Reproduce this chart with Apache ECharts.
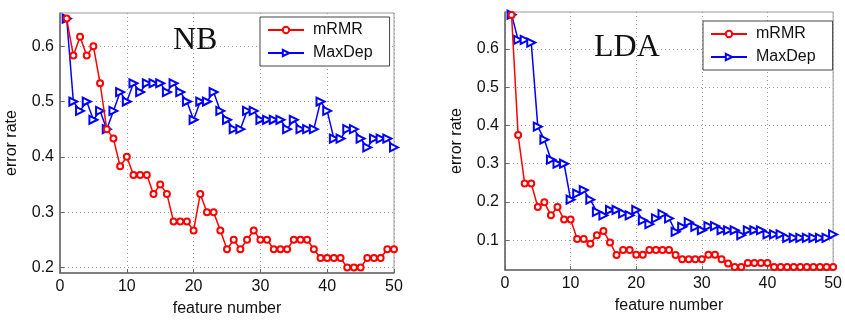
<!DOCTYPE html>
<html>
<head>
<meta charset="utf-8">
<script src="https://cdn.jsdelivr.net/npm/echarts@6/dist/echarts.min.js"></script>
<style>
  html, body { margin: 0; padding: 0; background: #fff; }
  #chart { width: 845px; height: 322px; }
</style>
</head>
<body>
<div id="chart"></div>
<script>
// feature number 1..50
const featureNumbers = Array.from({ length: 50 }, (_, i) => i + 1);

// NB classifier error rates
const nbMrmr = [
  0.650, 0.583, 0.617, 0.583, 0.600, 0.533, 0.450, 0.433, 0.383, 0.400,
  0.367, 0.367, 0.367, 0.333, 0.350, 0.333, 0.283, 0.283, 0.283, 0.267,
  0.333, 0.300, 0.300, 0.267, 0.233, 0.250, 0.233, 0.250, 0.267, 0.250,
  0.250, 0.233, 0.233, 0.233, 0.250, 0.250, 0.250, 0.233, 0.217, 0.217,
  0.217, 0.217, 0.200, 0.200, 0.200, 0.217, 0.217, 0.217, 0.233, 0.233
];
const nbMaxDep = [
  0.650, 0.500, 0.483, 0.500, 0.467, 0.483, 0.450, 0.483, 0.517, 0.500,
  0.533, 0.517, 0.533, 0.533, 0.533, 0.517, 0.533, 0.517, 0.500, 0.467,
  0.500, 0.500, 0.517, 0.483, 0.467, 0.450, 0.450, 0.483, 0.483, 0.467,
  0.467, 0.467, 0.467, 0.450, 0.467, 0.450, 0.450, 0.450, 0.500, 0.483,
  0.433, 0.433, 0.450, 0.450, 0.433, 0.417, 0.433, 0.433, 0.433, 0.417
];

// LDA classifier error rates
const ldaMrmr = [
  0.689, 0.375, 0.248, 0.248, 0.187, 0.199, 0.165, 0.187, 0.154, 0.154,
  0.103, 0.103, 0.091, 0.113, 0.124, 0.094, 0.061, 0.074, 0.074, 0.062,
  0.062, 0.074, 0.074, 0.074, 0.074, 0.061, 0.050, 0.050, 0.050, 0.050,
  0.062, 0.062, 0.050, 0.039, 0.030, 0.030, 0.040, 0.040, 0.040, 0.040,
  0.030, 0.030, 0.030, 0.030, 0.030, 0.030, 0.030, 0.030, 0.030, 0.030
];
const ldaMaxDep = [
  0.690, 0.624, 0.624, 0.617, 0.397, 0.363, 0.311, 0.300, 0.300, 0.206,
  0.222, 0.231, 0.206, 0.174, 0.165, 0.179, 0.179, 0.170, 0.165, 0.179,
  0.152, 0.142, 0.157, 0.168, 0.157, 0.122, 0.135, 0.147, 0.135, 0.126,
  0.137, 0.137, 0.126, 0.126, 0.126, 0.113, 0.126, 0.126, 0.126, 0.115,
  0.115, 0.115, 0.106, 0.106, 0.106, 0.106, 0.106, 0.106, 0.106, 0.115
];

const nbYTicks = [0.2, 0.3, 0.4, 0.5, 0.6];
const ldaYTicks = [0.1, 0.2, 0.3, 0.4, 0.5, 0.6];

const FONT = '"Liberation Sans", Arial, sans-serif';
const SERIF = '"Liberation Serif", "Times New Roman", serif';
const RED = '#ff0000';
const BLUE = '#0000ff';

const pairs = (ys) => featureNumbers.map((x, i) => [x, ys[i]]);

const makeXAxis = (gridIndex) => ({
  type: 'value',
  gridIndex,
  min: 0,
  max: 50,
  interval: 10,
  name: 'feature number',
  nameLocation: 'middle',
  nameGap: 28,
  nameTextStyle: { fontFamily: FONT, fontSize: 16, color: '#111' },
  axisLine: { show: true, lineStyle: { color: '#666', width: 1.5 } },
  axisTick: { show: true, inside: true, length: 4, lineStyle: { color: '#666' } },
  axisLabel: { fontFamily: FONT, fontSize: 16, color: '#111', margin: 6 },
  splitLine: { show: true, lineStyle: { color: '#9a9a9a', type: [1, 3], width: 1 } }
});

const makeYAxis = (gridIndex, min, max, ticks) => ({
  type: 'value',
  gridIndex,
  min,
  max,
  name: 'error rate',
  nameLocation: 'middle',
  nameGap: 40,
  nameTextStyle: { fontFamily: FONT, fontSize: 16, color: '#111' },
  axisLine: { show: true, lineStyle: { color: '#666', width: 1.5 } },
  axisTick: { show: true, inside: true, length: 4, customValues: ticks, lineStyle: { color: '#666' } },
  axisLabel: { fontFamily: FONT, fontSize: 16, color: '#111', margin: 6, customValues: ticks,
    formatter: (v) => v.toFixed(1) },
  splitLine: { show: true, lineStyle: { color: '#9a9a9a', type: [1, 3], width: 1 } }
});

// mRMR: red line with open circles; MaxDep: blue line with open right-pointing triangles
const makeSeries = (name, data, axisIndex, isMrmr) => ({
  name,
  type: 'line',
  xAxisIndex: axisIndex,
  yAxisIndex: axisIndex,
  data: pairs(data),
  ...(isMrmr
    ? { symbol: 'emptyCircle', symbolSize: 6 }
    : { symbol: 'emptyTriangle', symbolSize: 8, symbolRotate: -90 }),
  showAllSymbol: true,
  lineStyle: { color: isMrmr ? RED : BLUE, width: 1.5 },
  itemStyle: { color: isMrmr ? RED : BLUE, borderWidth: 1.2 },
  emphasis: { disabled: true },
  z: isMrmr ? 3 : 2
});

const makeLegend = (names, left, top) => ({
  orient: 'vertical',
  left,
  top,
  padding: [5, 17, 5, 7],
  itemGap: 7,
  itemWidth: 36,
  itemHeight: 8,
  borderColor: '#444',
  borderWidth: 1,
  backgroundColor: '#fff',
  textStyle: { fontFamily: FONT, fontSize: 16, color: '#111', padding: [0, 0, 0, 4] },
  data: names,
  formatter: (n) => n.trim(),
  selectedMode: false
});

const chart = echarts.init(document.getElementById('chart'), null, { renderer: 'canvas' });

chart.setOption({
  animation: false,
  backgroundColor: '#fff',
  grid: [
    { left: 60, top: 13, width: 334, height: 263, show: true, borderColor: '#999', borderWidth: 1 },
    { left: 505, top: 12, width: 330, height: 258, show: true, borderColor: '#999', borderWidth: 1 }
  ],
  title: [
    { text: 'NB', left: 168, top: 20,
      textStyle: { fontFamily: SERIF, fontSize: 32, fontWeight: 'normal', color: '#111' } },
    { text: 'LDA', left: 589, top: 27,
      textStyle: { fontFamily: SERIF, fontSize: 32, fontWeight: 'normal', color: '#111' } }
  ],
  legend: [
    makeLegend(['mRMR', 'MaxDep'], 260, 17),
    makeLegend(['mRMR ', 'MaxDep '], 703, 21)
  ],
  xAxis: [makeXAxis(0), makeXAxis(1)],
  yAxis: [
    makeYAxis(0, 0.19, 0.66, nbYTicks),
    makeYAxis(1, 0.022, 0.697, ldaYTicks)
  ],
  series: [
    makeSeries('mRMR', nbMrmr, 0, true),
    makeSeries('MaxDep', nbMaxDep, 0, false),
    makeSeries('mRMR ', ldaMrmr, 1, true),
    makeSeries('MaxDep ', ldaMaxDep, 1, false)
  ]
});
</script>
</body>
</html>
